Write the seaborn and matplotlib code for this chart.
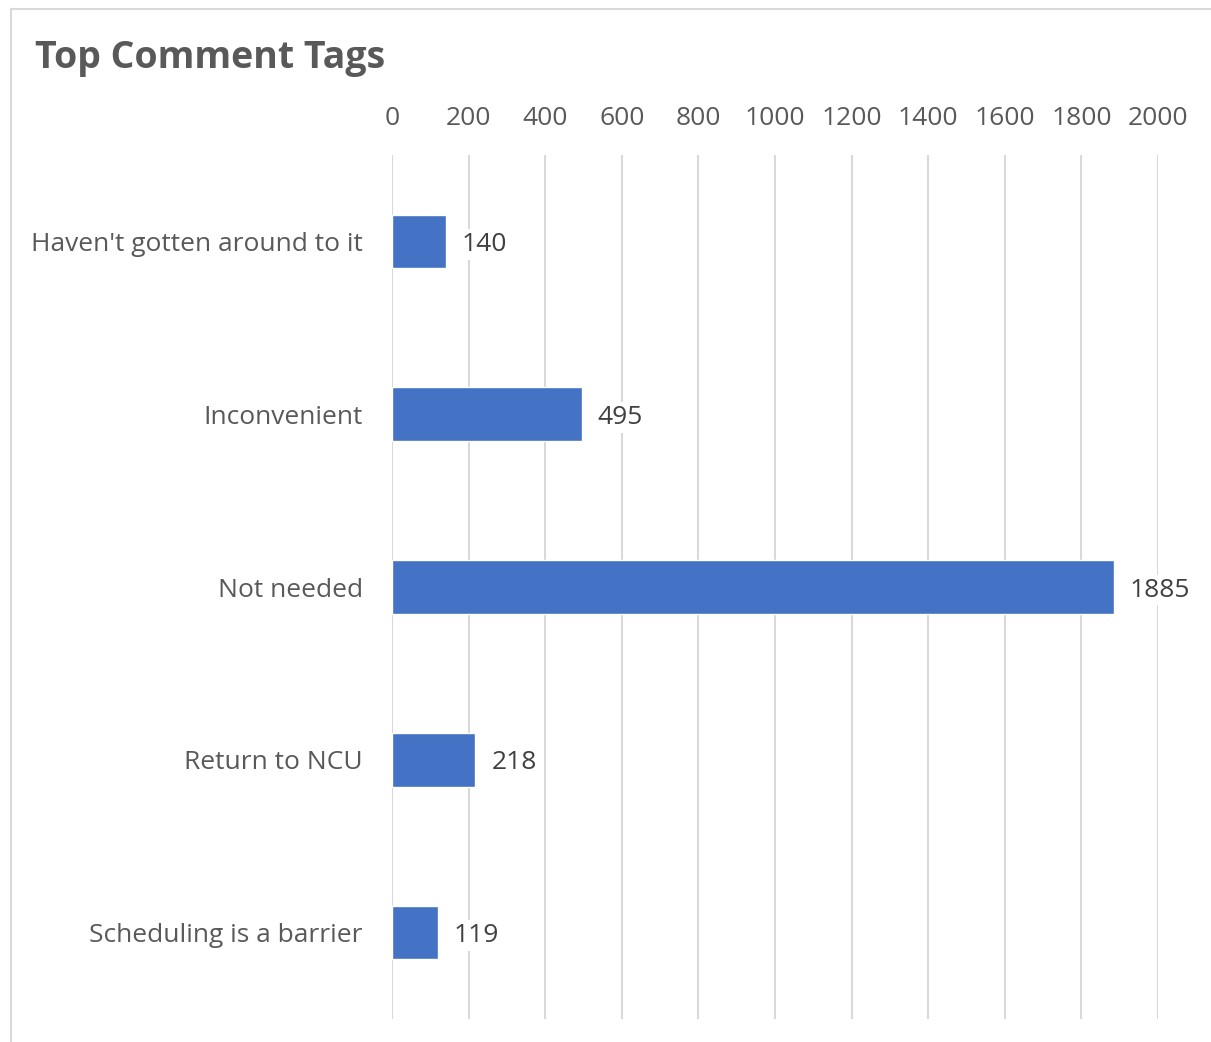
import matplotlib
matplotlib.use("Agg")
import matplotlib.pyplot as plt
import seaborn as sns
import pandas as pd
from matplotlib.patches import Rectangle

categories = ["Haven't gotten around to it", "Inconvenient", "Not needed",
              "Return to NCU", "Scheduling is a barrier"]
counts = [140, 495, 1885, 218, 119]
x_ticks = [0, 200, 400, 600, 800, 1000, 1200, 1400, 1600, 1800, 2000]

sns.set_theme(style="white")
plt.rcParams['font.family'] = ['Open Sans', 'DejaVu Sans']

W, H = 1211, 1042
fig = plt.figure(figsize=(W / 100, H / 100), dpi=100)
fig.patch.set_facecolor("white")

# frame
fig.patches.append(Rectangle((11 / W, -0.1), 1.2, 1 - 9 / H + 0.1,
                             transform=fig.transFigure, fill=False,
                             edgecolor="#d9d9d9", linewidth=1.5))

ax_l, ax_r, ax_t, ax_b = 392, 1158, 155, 1019
ax = fig.add_axes([ax_l / W, 1 - ax_b / H, (ax_r - ax_l) / W, (ax_b - ax_t) / H])

df = pd.DataFrame({"tag": categories, "count": counts})
sns.barplot(data=df, x="count", y="tag", orient="h", color="#4472C4",
            width=0.31, saturation=1, ax=ax, zorder=3)

ax.set_xlim(0, 2000)
ax.set_ylim(4.5, -0.5)
ax.set_xticks(x_ticks)
ax.xaxis.tick_top()
ax.set_xlabel("")
ax.set_ylabel("")
ax.grid(axis="x", color="#d9d9d9", linewidth=1.5, zorder=0)
ax.grid(axis="y", visible=False)
ax.set_axisbelow(True)
for s in ax.spines.values():
    s.set_visible(False)
ax.tick_params(axis="x", length=0, pad=17, labelsize=19, labelcolor="#595959")
ax.tick_params(axis="y", length=0, pad=21, labelsize=19, labelcolor="#595959")

for i, v in enumerate(counts):
    ax.annotate(str(v), xy=(v, i), xytext=(16, -3), textcoords="offset pixels",
                va="center", ha="left", fontsize=19, color="#404040", zorder=4,
                bbox=dict(facecolor="white", edgecolor="none", pad=2))

fig.text(35 / W, 1 - 58 / H, "Top Comment Tags", fontsize=27, fontweight="bold",
         color="#595959", ha="left", va="center")

fig.savefig("out.png", dpi=100)
